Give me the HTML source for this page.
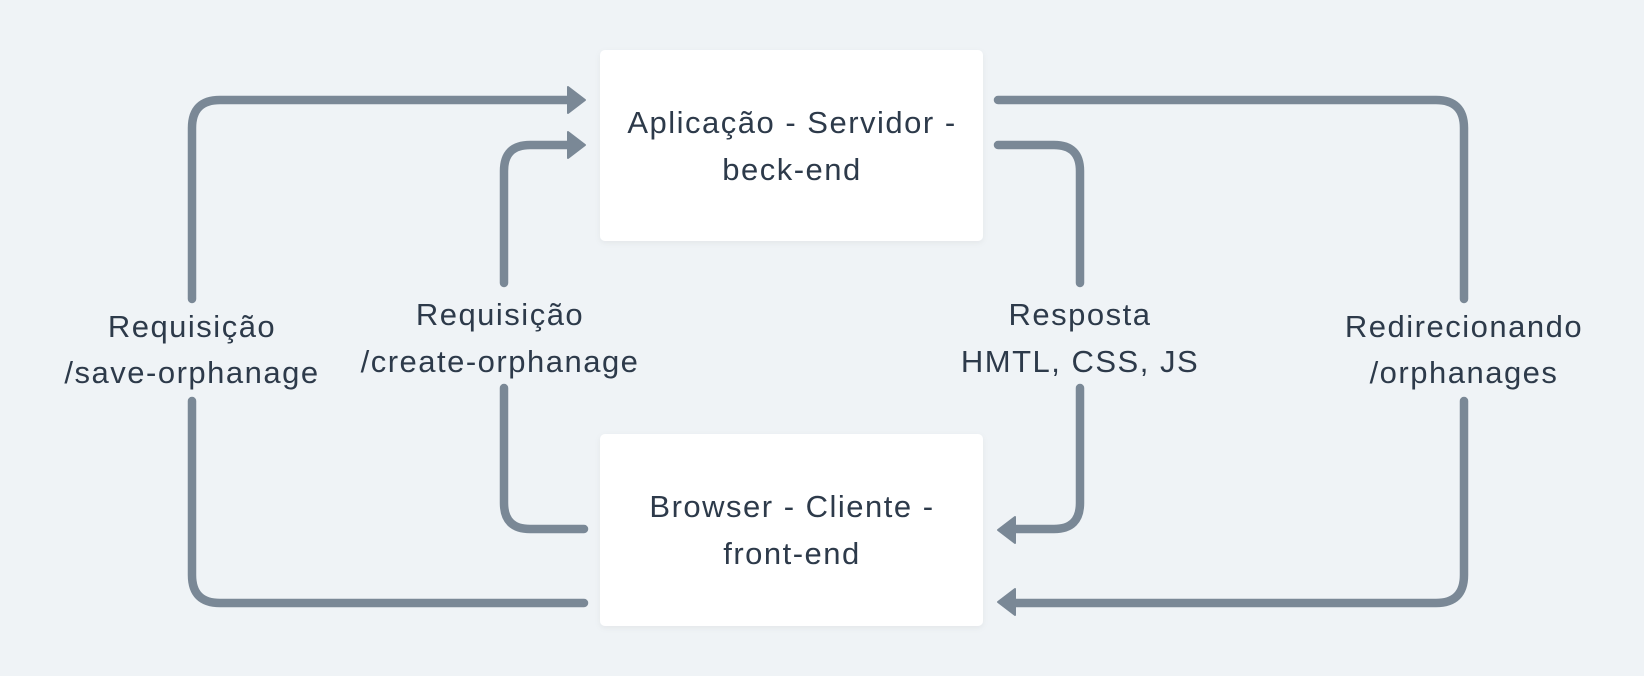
<!DOCTYPE html>
<html><head><meta charset="utf-8"><style>
html,body{margin:0;padding:0;background:#eff3f6;}
svg{display:block}
text{font-family:"Liberation Sans",sans-serif;font-size:31px;fill:#2d3a4a;letter-spacing:1.5px;text-anchor:middle}
</style></head><body>
<svg width="1644" height="676" viewBox="0 0 1644 676">
<defs><filter id="s" x="-5%" y="-5%" width="110%" height="115%"><feDropShadow dx="0" dy="2" stdDeviation="3" flood-color="#000" flood-opacity="0.05"/></filter></defs>
<rect x="600" y="50" width="383" height="191" rx="5" fill="#fff" filter="url(#s)"/>
<rect x="600" y="434" width="383" height="192" rx="5" fill="#fff" filter="url(#s)"/>
<g fill="none" stroke="#7a8896" stroke-width="8.5" stroke-linecap="round" stroke-linejoin="round">
<path d="M584 603 H220 Q192 603 192 575 V401"/>
<path d="M192 299 V128 Q192 100 220 100 H570"/>
<path d="M584 529 H530 Q504 529 504 503 V388"/>
<path d="M504 283 V171 Q504 145 530 145 H570"/>
<path d="M998 145 H1054 Q1080 145 1080 171 V283"/>
<path d="M1080 388 V503 Q1080 529 1054 529 H1012"/>
<path d="M998 100 H1436 Q1464 100 1464 128 V299"/>
<path d="M1464 401 V575 Q1464 603 1436 603 H1012"/>
</g>
<g fill="#7a8896" stroke="#7a8896" stroke-width="2" stroke-linejoin="round">
<polygon points="585,100 568,87 568,113"/>
<polygon points="585,145 568,132 568,158"/>
<polygon points="998,530 1015,517 1015,543"/>
<polygon points="998,602 1015,589 1015,615"/>
</g>
<text x="792" y="133">Aplicação - Servidor -</text>
<text x="792" y="180">beck-end</text>
<text x="792" y="517">Browser - Cliente -</text>
<text x="792" y="564">front-end</text>
<text x="192" y="337">Requisição</text>
<text x="192" y="383">/save-orphanage</text>
<text x="500" y="325">Requisição</text>
<text x="500" y="372">/create-orphanage</text>
<text x="1080" y="325">Resposta</text>
<text x="1080" y="372">HMTL, CSS, JS</text>
<text x="1464" y="337">Redirecionando</text>
<text x="1464" y="383">/orphanages</text>
</svg>
</body></html>
